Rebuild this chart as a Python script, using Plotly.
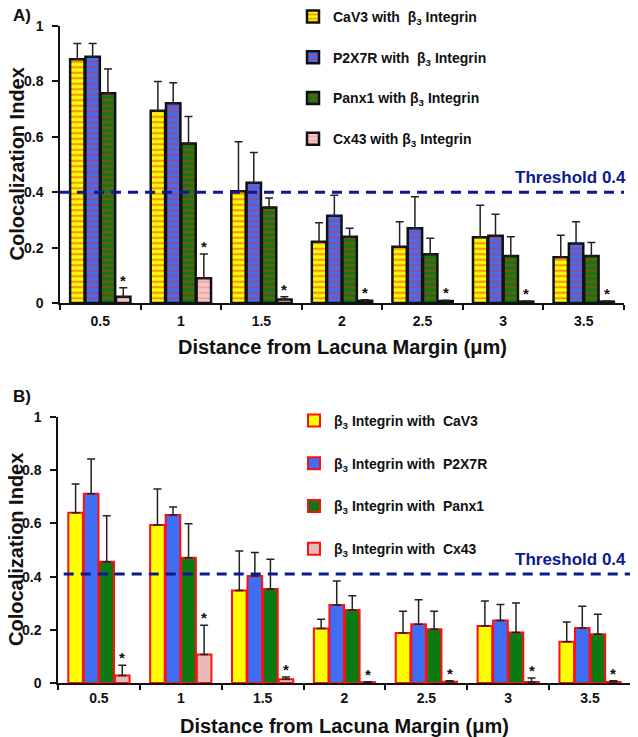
import plotly.graph_objects as go

# ---------------- data ----------------
categories = ["0.5", "1", "1.5", "2", "2.5", "3", "3.5"]

# Panel A
a_names = ["CaV3 with  β<sub>3</sub> Integrin", "P2X7R with  β<sub>3</sub> Integrin",
           "Panx1 with β<sub>3</sub> Integrin", "Cx43 with β<sub>3</sub> Integrin"]
a_cav3 = [0.880, 0.694, 0.403, 0.221, 0.203, 0.237, 0.165]
a_cav3_err = [0.057, 0.106, 0.179, 0.069, 0.090, 0.116, 0.080]
a_p2x7r = [0.889, 0.721, 0.434, 0.315, 0.270, 0.243, 0.215]
a_p2x7r_err = [0.048, 0.074, 0.109, 0.074, 0.114, 0.077, 0.078]
a_panx1 = [0.757, 0.576, 0.345, 0.239, 0.176, 0.170, 0.170]
a_panx1_err = [0.088, 0.097, 0.034, 0.031, 0.058, 0.069, 0.048]
a_cx43 = [0.023, 0.089, 0.013, 0.008, 0.007, 0.005, 0.005]
a_cx43_err = [0.032, 0.088, 0.010, 0.004, 0.003, 0.002, 0.002]

# Panel B
b_names = ["β<sub>3</sub> Integrin with  CaV3", "β<sub>3</sub> Integrin with  P2X7R",
           "β<sub>3</sub> Integrin with  Panx1", "β<sub>3</sub> Integrin with  Cx43"]
b_cav3 = [0.640, 0.594, 0.348, 0.205, 0.188, 0.214, 0.155]
b_cav3_err = [0.108, 0.135, 0.148, 0.035, 0.082, 0.094, 0.074]
b_p2x7r = [0.711, 0.632, 0.402, 0.293, 0.221, 0.235, 0.207]
b_p2x7r_err = [0.131, 0.030, 0.089, 0.090, 0.092, 0.060, 0.082]
b_panx1 = [0.456, 0.471, 0.353, 0.274, 0.202, 0.190, 0.183]
b_panx1_err = [0.173, 0.128, 0.112, 0.054, 0.068, 0.111, 0.075]
b_cx43 = [0.028, 0.107, 0.014, 0.003, 0.005, 0.004, 0.004]
b_cx43_err = [0.039, 0.110, 0.009, 0.002, 0.003, 0.015, 0.004]

threshold_a = 0.40
threshold_b = 0.41
threshold_label = "Threshold 0.4"
y_ticks = [0, 0.2, 0.4, 0.6, 0.8, 1]

# ---------------- style ----------------
FONT = "Liberation Sans, Arial, sans-serif"
OFF = 8                      # default page body margin
W, H = 638 - OFF, 737 - OFF  # figure size so that the page fills the window
NAVY = "#0b1a8e"
BARGAP = 0.24

fills = ["#ffff00", "#3f6ef5", "#0c7a12", "#f5c8c8"]
a_stripes = ["#f02a20", "#f02a20", "#f02a20", "#ec8a8a"]
b_fills = ["#ffff00", "#3f6ef5", "#0c7a12", "#e9b8b8"]


def px(xp):
    """window x pixel -> paper fraction"""
    return (xp - OFF) / W


def py(yp):
    """window y pixel -> paper fraction"""
    return 1 - (yp - OFF) / H


fig = go.Figure()

a_vals = [a_cav3, a_p2x7r, a_panx1, a_cx43]
a_errs = [a_cav3_err, a_p2x7r_err, a_panx1_err, a_cx43_err]
b_vals = [b_cav3, b_p2x7r, b_panx1, b_cx43]
b_errs = [b_cav3_err, b_p2x7r_err, b_panx1_err, b_cx43_err]

for i in range(4):
    fig.add_trace(go.Bar(
        x=categories, y=a_vals[i], name=a_names[i], xaxis="x", yaxis="y",
        legend="legend", legendgroup=f"a{i}",
        marker=dict(color=fills[i], line=dict(color="#111111", width=2.5),
                    pattern=dict(shape="-", fgcolor=a_stripes[i], bgcolor=fills[i],
                                 size=5.5, solidity=0.4, fillmode="overlay")),
        error_y=dict(type="data", symmetric=False, array=a_errs[i],
                     arrayminus=[0] * len(categories), color="#222222",
                     thickness=1.5, width=4),
    ))

for i in range(4):
    fig.add_trace(go.Bar(
        x=categories, y=b_vals[i], name=b_names[i], xaxis="x2", yaxis="y2",
        legend="legend2", legendgroup=f"b{i}",
        marker=dict(color=b_fills[i], line=dict(color="#ff1010", width=2)),
        error_y=dict(type="data", symmetric=False, array=b_errs[i],
                     arrayminus=[0] * len(categories), color="#222222",
                     thickness=1.5, width=4),
    ))

axis_common = dict(showgrid=False, zeroline=False, showline=True, linecolor="#111111",
                   ticks="outside", tickcolor="#111111", automargin=False,
                   tickfont=dict(family=FONT, size=14, color="#111111", weight="bold"))

xa = dict(axis_common, type="category", tickson="boundaries", ticklen=5, tickwidth=1.5,
          linewidth=2)
ya = dict(axis_common, range=[0, 1], tickvals=y_ticks, ticklen=6, tickwidth=1.5,
          linewidth=1.5, ticklabelstandoff=6)

fig.update_layout(
    width=W, height=H, margin=dict(l=0, r=0, t=0, b=0, autoexpand=False),
    paper_bgcolor="white", plot_bgcolor="white",
    font=dict(family=FONT, color="#111111"),
    barmode="group", bargap=BARGAP, bargroupgap=0.06,
    xaxis=dict(xa, domain=[px(60), px(624)], anchor="y", ticklabelstandoff=4),
    yaxis=dict(ya, domain=[py(303), py(26)], anchor="x"),
    xaxis2=dict(xa, domain=[px(58), px(631)], anchor="y2", ticklabelstandoff=1),
    yaxis2=dict(ya, domain=[py(683), py(417)], anchor="x2"),
    legend=dict(x=px(293), y=py(1), xanchor="left", yanchor="top",
                font=dict(family=FONT, size=14, weight="bold", color="#111111"),
                traceorder="grouped", tracegroupgap=19.5, bgcolor="rgba(0,0,0,0)"),
    legend2=dict(x=px(294), y=py(405), xanchor="left", yanchor="top",
                 font=dict(family=FONT, size=14, weight="bold", color="#111111"),
                 traceorder="grouped", tracegroupgap=21.5, bgcolor="rgba(0,0,0,0)"),
    showlegend=True,
)

# threshold lines
fig.add_shape(type="line", xref="x domain", yref="y", x0=0, x1=1, y0=threshold_a, y1=threshold_a,
              line=dict(color=NAVY, width=3, dash="10px,7px"))
fig.add_shape(type="line", xref="x2 domain", yref="y2", x0=0.01, x1=1, y0=threshold_b, y1=threshold_b,
              line=dict(color=NAVY, width=3, dash="10px,7px"))

ann = []
ann.append(dict(text=f"<b>{threshold_label}</b>", xref="x domain", yref="y", x=1.0, y=threshold_a,
                xanchor="right", yanchor="bottom", xshift=4, yshift=3, showarrow=False,
                font=dict(family=FONT, size=17, color=NAVY)))
ann.append(dict(text=f"<b>{threshold_label}</b>", xref="x2 domain", yref="y2", x=1.0, y=threshold_b,
                xanchor="right", yanchor="bottom", xshift=-3, yshift=3, showarrow=False,
                font=dict(family=FONT, size=17, color=NAVY)))

# significance asterisks above Cx43 bars
slot = (1 - BARGAP) * 0.375
for vals, errs, xr, yr in [(a_cx43, a_cx43_err, "x", "y"), (b_cx43, b_cx43_err, "x2", "y2")]:
    for i, (v, e) in enumerate(zip(vals, errs)):
        ann.append(dict(text="<b>*</b>", xref=xr, yref=yr, x=i + slot, y=v + e,
                        xanchor="center", yanchor="bottom", yshift=-3, showarrow=False,
                        font=dict(family=FONT, size=15, color="#111111")))

# axis titles and panel labels
for xr, yr, ytitle in [("x", "y", py(347)), ("x2", "y2", py(726))]:
    ann.append(dict(text="<b>Distance from Lacuna Margin (μm)</b>", xref=f"{xr} domain", yref="paper",
                    x=0.5, y=ytitle, xanchor="center", yanchor="middle", showarrow=False,
                    font=dict(family=FONT, size=20, color="#111111")))
    ann.append(dict(text="<b>Colocalization Index</b>", xref="paper", yref=f"{yr} domain",
                    x=px(16), y=0.5, xanchor="center", yanchor="middle", textangle=-90,
                    showarrow=False, font=dict(family=FONT, size=20, color="#111111")))

ann.append(dict(text="<b>A)</b>", xref="paper", yref="paper", x=px(11), y=py(15),
                xanchor="left", yanchor="middle", showarrow=False,
                font=dict(family=FONT, size=17, color="#111111")))
ann.append(dict(text="<b>B)</b>", xref="paper", yref="paper", x=px(11), y=py(396),
                xanchor="left", yanchor="middle", showarrow=False,
                font=dict(family=FONT, size=17, color="#111111")))

fig.update_layout(annotations=ann)

fig.write_html("out.html")
